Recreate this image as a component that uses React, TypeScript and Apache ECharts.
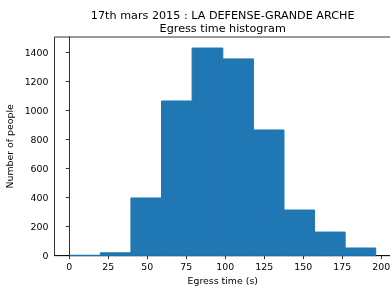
import React, { useEffect, useRef } from "react";
import * as echarts from "echarts";

const binEdges = [0.3, 19.9, 39.5, 59.1, 78.7, 98.4, 118.0, 137.6, 157.2, 176.8, 196.4];
const counts = [3, 20, 398, 1067, 1432, 1357, 867, 315, 163, 53];
const xTicks = [0, 25, 50, 75, 100, 125, 150, 175, 200];
const yTicks = [0, 200, 400, 600, 800, 1000, 1200, 1400];

const FONT = "DejaVu Sans";

export default function App() {
  const ref = useRef<HTMLDivElement>(null);
  useEffect(() => {
    const chart = echarts.init(ref.current!, null, { renderer: "svg" });
    const data = counts.map((c, i) => [binEdges[i], binEdges[i + 1], c]);
    chart.setOption({
      animation: false,
      title: {
        text: "17th mars 2015 : LA DEFENSE-GRANDE ARCHE\nEgress time histogram",
        left: 222.7,
        top: 8.5,
        padding: 0,
        textAlign: "center",
        textStyle: { fontFamily: FONT, fontSize: 11.2, fontWeight: "normal", color: "#000", lineHeight: 13 },
      },
      grid: {
        left: 54.5,
        top: 37,
        width: 336.5,
        height: 218.7,
        show: true,
        borderColor: "#000",
        borderWidth: 0.8,
        backgroundColor: "transparent",
        containLabel: false,
        outerBoundsMode: "none",
      },
      xAxis: {
        type: "value",
        min: -9.5,
        max: 206.2,
        name: "Egress time (s)",
        nameLocation: "middle",
        nameGap: 20,
        nameMoveOverlap: false,
        nameTextStyle: { fontFamily: FONT, fontSize: 9.4, color: "#000" },
        axisLine: { show: true, lineStyle: { color: "#000", width: 0.8 } },
        axisTick: { show: true, length: 3.5, lineStyle: { color: "#000", width: 0.8 }, customValues: xTicks },
        axisLabel: { fontFamily: FONT, fontSize: 9.4, color: "#000", margin: 6, customValues: xTicks, formatter: (v: number) => String(v) },
        splitLine: { show: false },
      },
      yAxis: {
        type: "value",
        min: 0,
        max: 1508,
        name: "Number of people",
        nameLocation: "middle",
        nameGap: 41,
        nameMoveOverlap: false,
        nameTextStyle: { fontFamily: FONT, fontSize: 9.4, color: "#000" },
        axisLine: { show: true, lineStyle: { color: "#000", width: 0.8 } },
        axisTick: { show: true, length: 3.5, lineStyle: { color: "#000", width: 0.8 }, customValues: yTicks },
        axisLabel: { fontFamily: FONT, fontSize: 9.4, color: "#000", margin: 6, customValues: yTicks, formatter: (v: number) => String(v) },
        splitLine: { show: false },
      },
      series: [
        {
          type: "custom",
          data,
          encode: { x: [0, 1], y: 2 },
          renderItem: (params: any, api: any) => {
            const p0 = api.coord([api.value(0), api.value(2)]);
            const p1 = api.coord([api.value(1), 0]);
            return {
              type: "rect",
              shape: { x: p0[0], y: p0[1], width: p1[0] - p0[0], height: p1[1] - p0[1] },
              style: { fill: "#1f77b4", stroke: "#1f77b4", lineWidth: 1 },
            };
          },
        },
      ],
    });
    return () => chart.dispose();
  }, []);
  return <div ref={ref} style={{ position: "fixed", left: 0, top: 0, width: 390, height: 286 }} />;
}
